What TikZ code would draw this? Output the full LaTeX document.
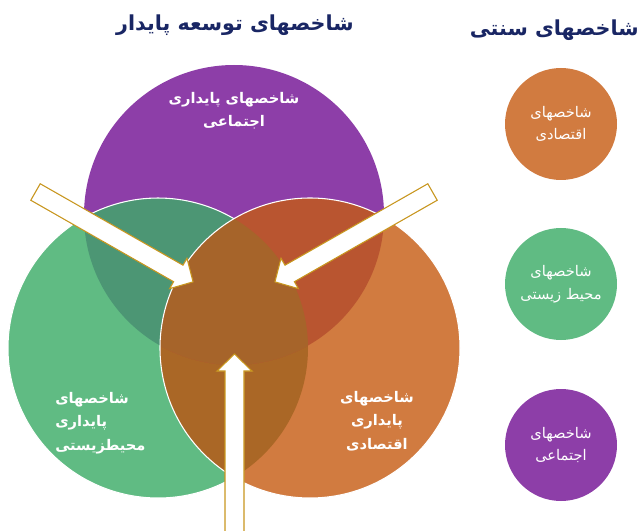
\documentclass[tikz,border=0pt]{standalone}
\usepackage{fontspec}
\newfontfamily\arabicfont[Script=Arabic]{DejaVu Sans}
\TeXXeTstate=1
\newcommand{\fa}[1]{\beginR #1\endR}

\definecolor{vpurple}{RGB}{141,62,168}
\definecolor{vgreen}{RGB}{96,187,131}
\definecolor{vorange}{RGB}{209,123,64}
\definecolor{pgmix}{RGB}{76,150,116}
\definecolor{pomix}{RGB}{185,85,48}
\definecolor{gomix}{RGB}{170,103,38}
\definecolor{allmix}{RGB}{166,100,42}
\definecolor{arrowgold}{RGB}{200,150,30}
\definecolor{titleblue}{RGB}{25,38,100}

\tikzset{
	titletext/.style = {text = titleblue, font = \arabicfont\bfseries\fontsize{15.5}{20}\selectfont, inner sep = 0pt},
	venntext/.style = {text = white, font = \arabicfont\bfseries\fontsize{11}{17.5}\selectfont, inner sep = 0pt},
	smallcirc/.style = {circle, minimum size = 84pt, inner sep = 0pt, text = white, align = center,
		font = \arabicfont\fontsize{11}{17}\selectfont},
}

%block arrow: tail, angle, length
\newcommand{\blockarrow}[3]{
	\begin{scope}[shift = {#1}, rotate = #2]
		\draw[arrowgold, fill = white, line width = .8pt] (0,-9.5) -- (#3-17,-9.5) -- (#3-17,-17.5) -- (#3,0)
			-- (#3-17,17.5) -- (#3-17,9.5) -- (0,9.5) -- cycle;
	\end{scope}
}

\begin{document}
\begin{tikzpicture}[x = .75pt, y = -.75pt]
	\clip (0,0) rectangle (643,531);
	%the three circles
	\fill[vpurple] (234,215) circle (150);
	\fill[vgreen] (158,348) circle (150);
	\fill[vorange] (310,348) circle (150);
	\begin{scope}
		\clip (158,348) circle (150);
		\fill[pgmix] (234,215) circle (150);
		\fill[gomix] (310,348) circle (150);
		\clip (310,348) circle (150);
		\fill[allmix] (234,215) circle (150);
	\end{scope}
	\begin{scope}
		\clip (310,348) circle (150);
		\fill[pomix] (234,215) circle (150);
		\clip (158,348) circle (150);
		\fill[allmix] (234,215) circle (150);
	\end{scope}
	\draw[white, line width = .8pt] (158,348) ++(59.6:150) arc (59.6:300.4:150);
	\draw[white, line width = .8pt] (310,348) circle (150);

	\blockarrow{(35.5,192)}{-29.7}{181.4}
	\blockarrow{(432.5,192)}{-150.3}{181.4}
	\blockarrow{(234.5,545)}{90}{191}

	%titles
	\node[titletext] (sust) at (235,25) {\fa{شاخصهای توسعه پایدار}};
	\node[titletext, anchor = east] (trad) at (639,30) {\fa{شاخصهای سنتی}};

	%venn labels
	\node[venntext, align = center] (social) at (234,111) {\fa{شاخصهای پایداری}\\\fa{اجتماعی}};
	\node[venntext, align = left, anchor = west] (envir) at (55,423) {\fa{شاخصهای}\\\fa{پایداری}\\\fa{محیطزیستی}};
	\node[venntext, align = center] (econ) at (377,421) {\fa{شاخصهای}\\\fa{پایداری}\\\fa{اقتصادی}};

	%traditional indicators
	\node[smallcirc, fill = vorange] (tecon) at (561,124) {\fa{شاخصهای}\\\fa{اقتصادی}};
	\node[smallcirc, fill = vgreen] (tenvir) at (561,284) {\fa{شاخصهای}\\\fa{محیط زیستی}};
	\node[smallcirc, fill = vpurple] (tsocial) at (561,445) {\fa{شاخصهای}\\\fa{اجتماعی}};
\end{tikzpicture}
\end{document}
